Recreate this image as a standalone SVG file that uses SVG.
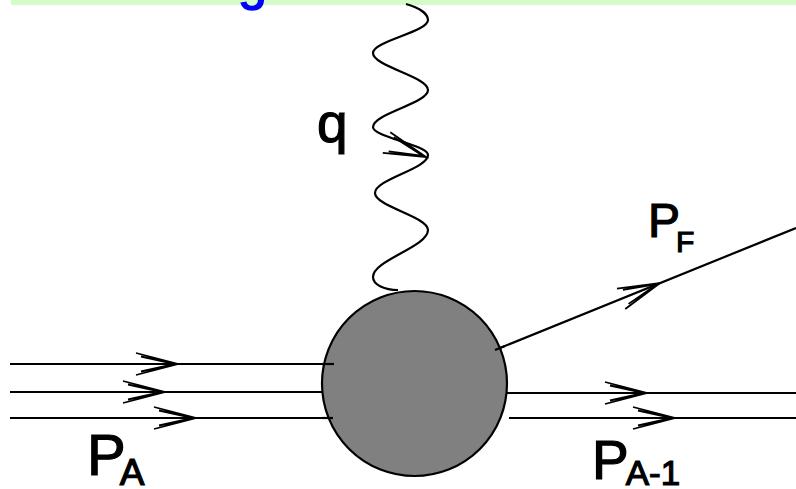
<svg xmlns="http://www.w3.org/2000/svg" xmlns:xlink="http://www.w3.org/1999/xlink" width="796" height="489" viewBox="0 0 796 489">
<style>
.ln{stroke:#000;stroke-width:2.2;fill:none}
.ah{stroke:#000;stroke-width:1.8;fill:none;stroke-linejoin:miter}
.lbl{font-family:"Liberation Sans","DejaVu Sans",sans-serif;fill:#000;stroke:#000;stroke-width:1.2}
</style>
<defs>
<g id="ah"><path class="ah" d="M-42,-11 L0,0 L-42,11 M-37,-7.5 L-3,0 L-37,7.5"/></g>
</defs>
<rect x="11" y="0" width="785" height="5" fill="#d4fcc8"/>
<text x="238" y="-1" font-family="Liberation Sans, sans-serif" font-size="52" fill="#0000ff" stroke="#0000ff" stroke-width="1.5">g</text>
<g id="connectors">
<path id="photon" class="ln" d="M406,4 C420,8 428,14 428,20 C428,32 373,41 373,53 C373,66.4 428,76.6 428,90 C428,103.4 373,113.6 373,127 C373,137.2 428,144.8 428,155 C428,168.8 375,179.2 375,193 C375,206.4 428,216.6 428,230 C428,247 373,260 373,277 C373,285 385,290 398,290"/>
<use href="#ah" transform="translate(426,157) rotate(20)"/>
<line class="ln" x1="10" y1="364" x2="334" y2="364"/>
<line class="ln" x1="10" y1="392" x2="324" y2="392"/>
<line class="ln" x1="10" y1="418" x2="333" y2="418"/>
<use href="#ah" transform="translate(178,364)"/>
<use href="#ah" transform="translate(165,392)"/>
<use href="#ah" transform="translate(196,418)"/>
<line class="ln" x1="505" y1="393" x2="796" y2="393"/>
<line class="ln" x1="509" y1="418" x2="796" y2="418"/>
<use href="#ah" transform="translate(647,393)"/>
<use href="#ah" transform="translate(675,418)"/>
<line class="ln" x1="495" y1="350" x2="796" y2="228"/>
<use href="#ah" transform="translate(660,283) rotate(-22.1)"/>
</g>
<g id="blob">
<circle cx="414.5" cy="383.5" r="92.5" fill="#808080" stroke="#000" stroke-width="2.2"/>
<line class="ln" x1="322" y1="364" x2="334" y2="364"/>
<line class="ln" x1="322" y1="418" x2="333" y2="418"/>
<line class="ln" x1="495" y1="350" x2="505" y2="346"/>
</g>
<g id="lbl-q"><text class="lbl" x="317" y="142" font-size="55">q</text></g>
<g id="lbl-pa"><text class="lbl" x="87" y="475" font-size="58">P<tspan font-size="37" dx="-6" dy="10">A</tspan></text></g>
<g id="lbl-pf"><text class="lbl" x="648" y="237" font-size="48">P<tspan font-size="30" dx="-4" dy="15">F</tspan></text></g>
<g id="lbl-pa1"><text class="lbl" x="592" y="479" font-size="55">P<tspan font-size="35" dx="-3" dy="6">A-1</tspan></text></g>
</svg>
